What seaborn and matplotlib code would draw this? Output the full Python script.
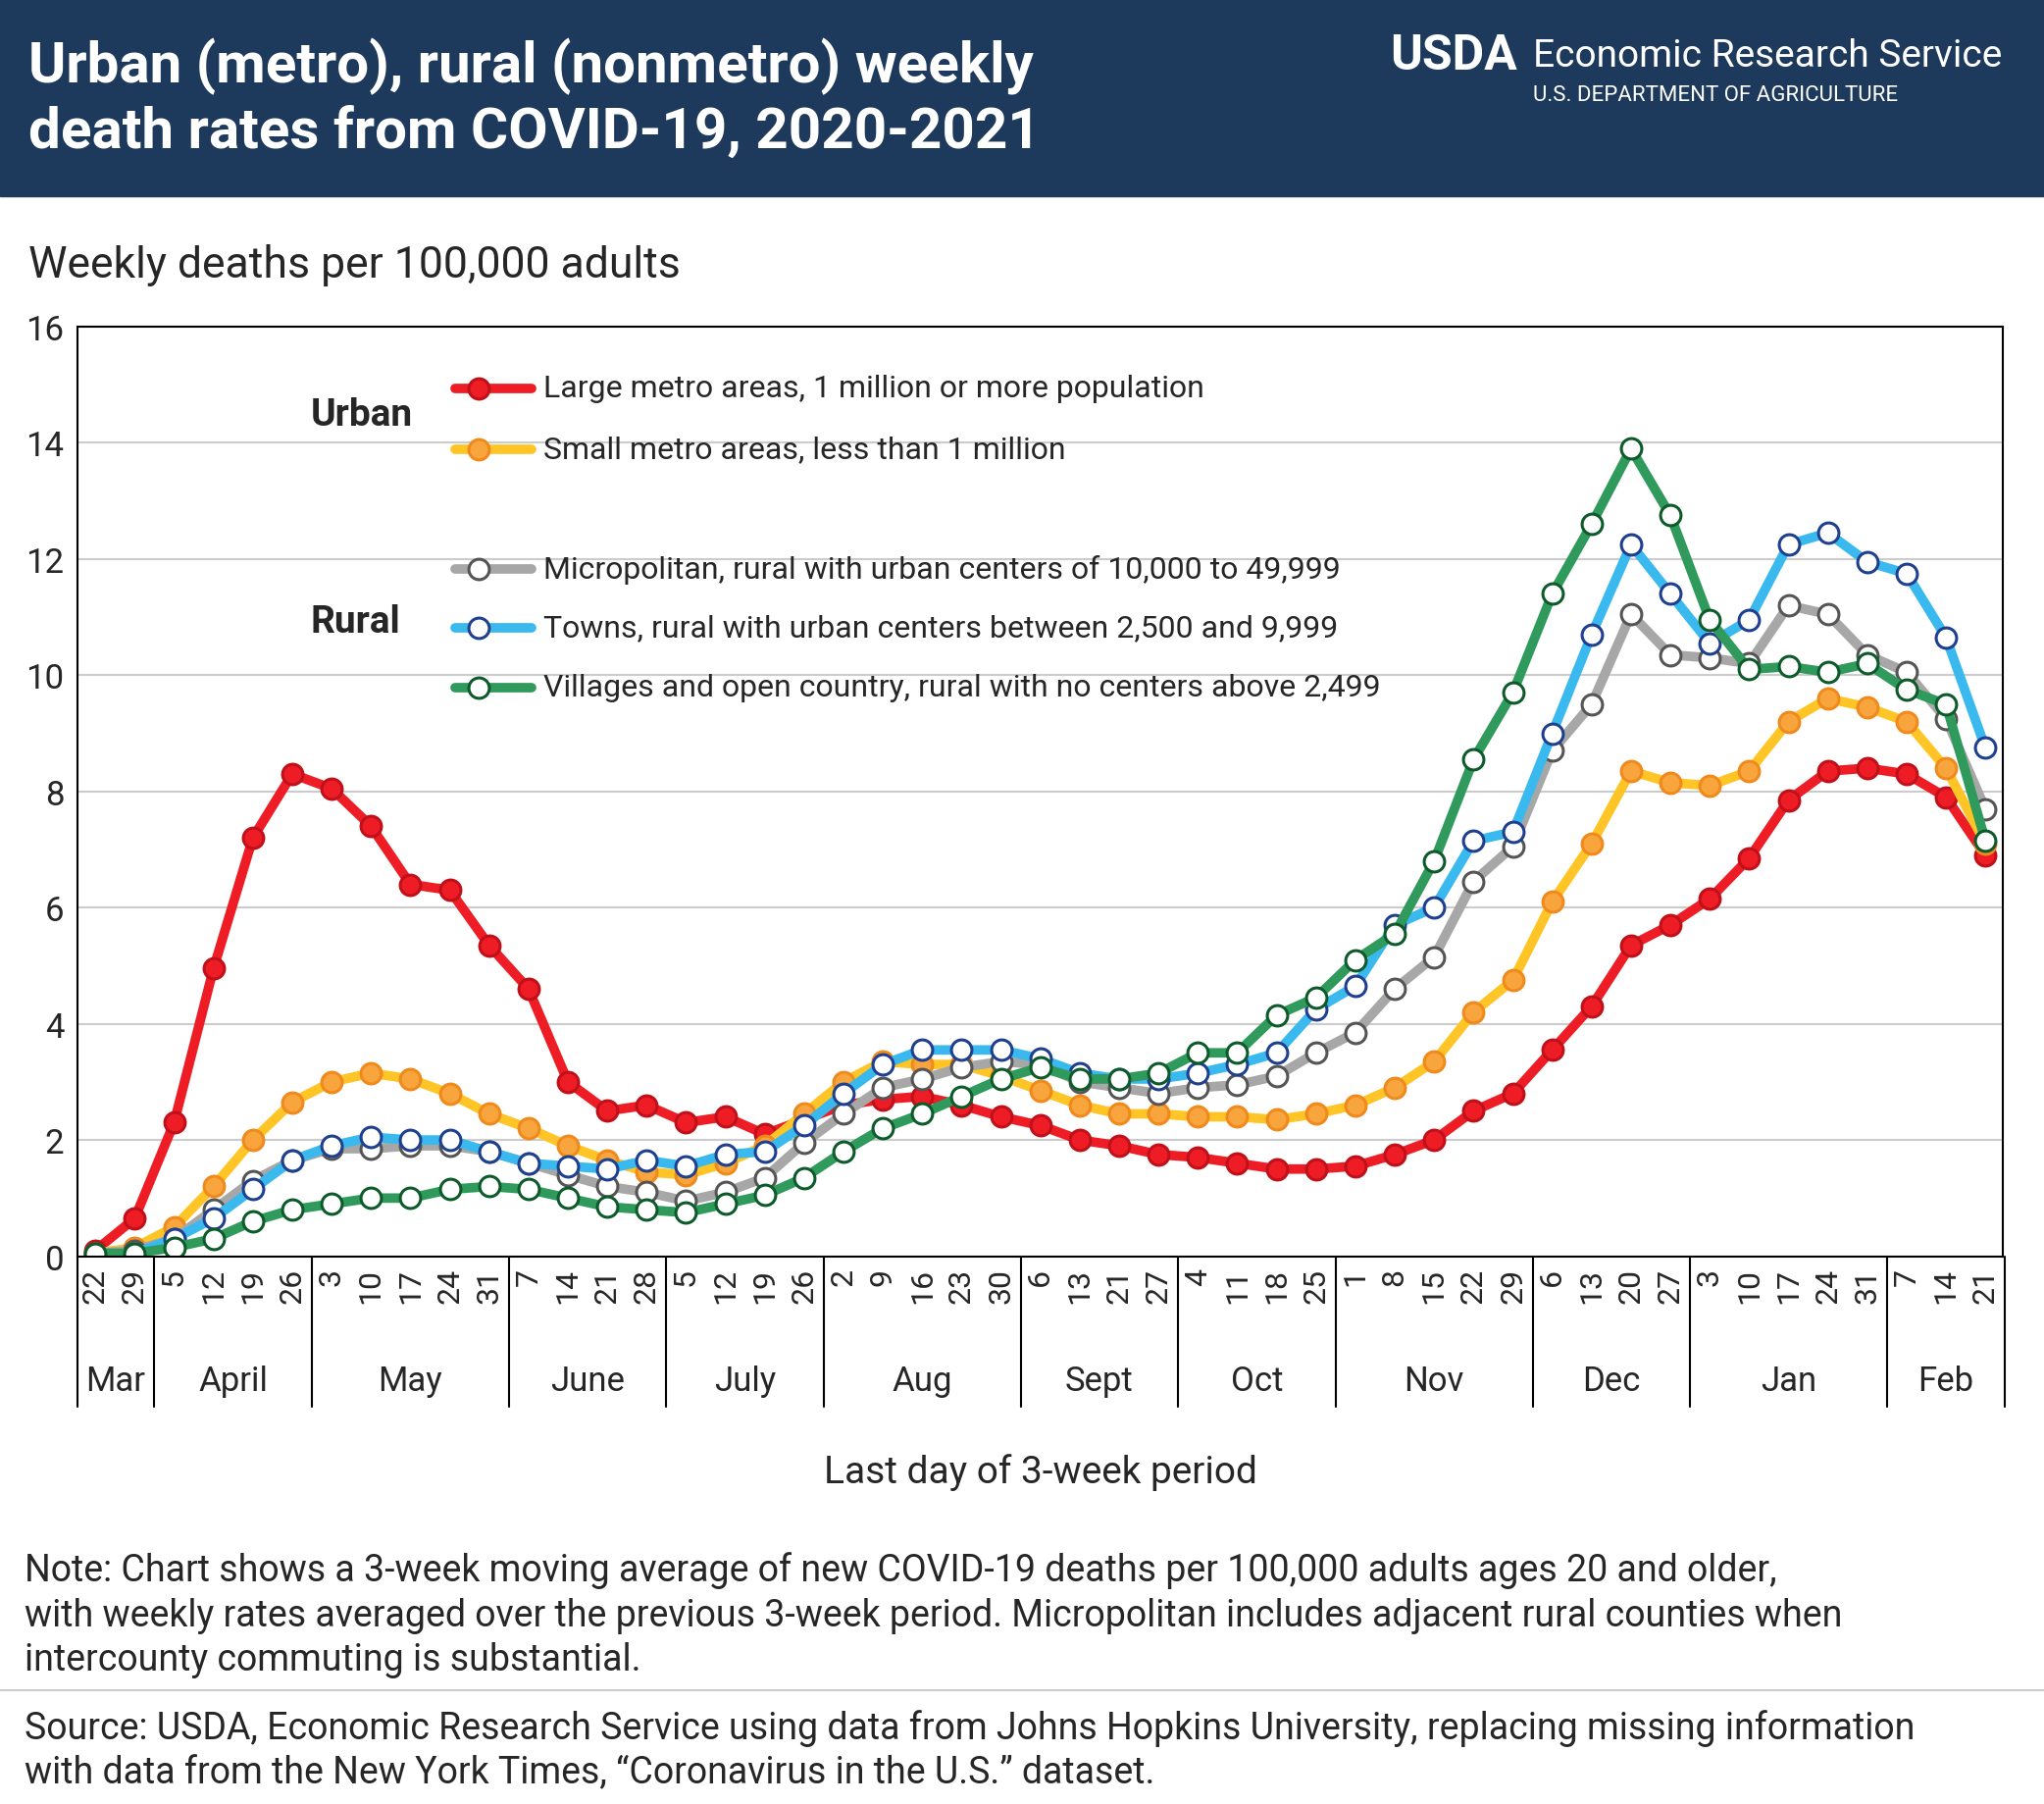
import numpy as np
import pandas as pd
import matplotlib
matplotlib.use("Agg")
import matplotlib.pyplot as plt
import seaborn as sns

# DATA
MONTHS = ["Mar", "April", "May", "June", "July", "Aug", "Sept", "Oct", "Nov", "Dec", "Jan", "Feb"]
DAYS = [
    [22, 29], [5, 12, 19, 26], [3, 10, 17, 24, 31], [7, 14, 21, 28], [5, 12, 19, 26],
    [2, 9, 16, 23, 30], [6, 13, 21, 27], [4, 11, 18, 25], [1, 8, 15, 22, 29],
    [6, 13, 20, 27], [3, 10, 17, 24, 31], [7, 14, 21],
]
large_metro = [0.1, 0.65, 2.3, 4.95, 7.2, 8.3, 8.05, 7.4, 6.4, 6.3, 5.35, 4.6, 3.0, 2.5, 2.6,
               2.3, 2.4, 2.1, 2.35, 2.6, 2.7, 2.75, 2.6, 2.4, 2.25, 2.0, 1.9, 1.75, 1.7, 1.6,
               1.5, 1.5, 1.55, 1.75, 2.0, 2.5, 2.8, 3.55, 4.3, 5.35, 5.7, 6.15, 6.85, 7.85,
               8.35, 8.4, 8.3, 7.9, 6.9]
small_metro = [0.05, 0.15, 0.5, 1.2, 2.0, 2.65, 3.0, 3.15, 3.05, 2.8, 2.45, 2.2, 1.9, 1.65, 1.45,
               1.4, 1.6, 1.9, 2.45, 3.0, 3.35, 3.3, 3.3, 3.1, 2.85, 2.6, 2.45, 2.45, 2.4, 2.4,
               2.35, 2.45, 2.6, 2.9, 3.35, 4.2, 4.75, 6.1, 7.1, 8.35, 8.15, 8.1, 8.35, 9.2,
               9.6, 9.45, 9.2, 8.4, 7.1]
micropolitan = [0.05, 0.1, 0.3, 0.8, 1.3, 1.65, 1.85, 1.85, 1.9, 1.9, 1.8, 1.6, 1.4, 1.2, 1.1,
                0.95, 1.1, 1.35, 1.95, 2.45, 2.9, 3.05, 3.25, 3.35, 3.3, 3.0, 2.9, 2.8, 2.9, 2.95,
                3.1, 3.5, 3.85, 4.6, 5.15, 6.45, 7.05, 8.7, 9.5, 11.05, 10.35, 10.3, 10.2, 11.2,
                11.05, 10.35, 10.05, 9.25, 7.7]
towns = [0.0, 0.05, 0.3, 0.65, 1.15, 1.65, 1.9, 2.05, 2.0, 2.0, 1.8, 1.6, 1.55, 1.5, 1.65,
         1.55, 1.75, 1.8, 2.25, 2.8, 3.3, 3.55, 3.55, 3.55, 3.4, 3.15, 3.05, 3.05, 3.15, 3.3,
         3.5, 4.25, 4.65, 5.7, 6.0, 7.15, 7.3, 9.0, 10.7, 12.25, 11.4, 10.55, 10.95, 12.25,
         12.45, 11.95, 11.75, 10.65, 8.75]
villages = [0.05, 0.05, 0.15, 0.3, 0.6, 0.8, 0.9, 1.0, 1.0, 1.15, 1.2, 1.15, 1.0, 0.85, 0.8,
            0.75, 0.9, 1.05, 1.35, 1.8, 2.2, 2.45, 2.75, 3.05, 3.25, 3.05, 3.05, 3.15, 3.5, 3.5,
            4.15, 4.45, 5.1, 5.55, 6.8, 8.55, 9.7, 11.4, 12.6, 13.9, 12.75, 10.95, 10.1, 10.15,
            10.05, 10.2, 9.75, 9.5, 7.15]

series = [
    ("Large metro areas, 1 million or more population", large_metro, "#ee1c25", "#ee1c25", "#c0101a"),
    ("Small metro areas, less than 1 million", small_metro, "#ffc425", "#f7a53c", "#f08a1c"),
    ("Micropolitan, rural with urban centers of 10,000 to 49,999", micropolitan, "#a7a7a7", "white", "#555555"),
    ("Towns, rural with urban centers between 2,500 and 9,999", towns, "#3ab9ee", "white", "#1f3f8f"),
    ("Villages and open country, rural with no centers above 2,499", villages, "#2f9a5b", "white", "#0d5a2a"),
]

sns.set_style("white")
plt.rcParams["font.family"] = ["Roboto", "DejaVu Sans"]

fig = plt.figure(figsize=(20.84, 18.4), dpi=100)
ax = fig.add_axes([0.038, 0.3035, 0.942, 0.515])

x = np.arange(len(large_metro))
for label, vals, lc, fc, ec in series:
    df = pd.DataFrame({"x": x, "y": vals})
    sns.lineplot(data=df, x="x", y="y", ax=ax, color=lc, linewidth=7, marker="o",
                 markersize=15, markerfacecolor=fc, markeredgecolor=ec, markeredgewidth=2.2)

ax.set_xlim(-0.45, len(x) - 0.55)
ax.set_ylim(0, 16)
ax.set_yticks(range(0, 17, 2))
ax.tick_params(axis="y", labelsize=25, length=0, pad=10)
ax.yaxis.grid(True, color="#cccccc", linewidth=1.5)
for s in ax.spines.values():
    s.set_color("black")
    s.set_linewidth(1.5)
ax.set_xlabel("")
ax.set_ylabel("")

day_labels = [str(d) for g in DAYS for d in g]
ax.set_xticks(x)
ax.set_xticklabels(day_labels, rotation=90, fontsize=23)
ax.tick_params(axis="x", length=0, pad=8)

# month band
trans = ax.get_xaxis_transform()
start = 0
edges = [-0.5]
for m, g in zip(MONTHS, DAYS):
    end = start + len(g)
    edges.append(end - 0.5)
    ax.text((start + end - 1) / 2, -0.134, m, transform=trans, ha="center", va="center", fontsize=25)
    start = end
for e in edges:
    ax.plot([max(e, -0.45), max(e, -0.45)], [0, -0.162], transform=trans, color="black", lw=1.5, clip_on=False)
ax.text(0.5, -0.232, "Last day of 3-week period", transform=ax.transAxes, ha="center", va="center", fontsize=28)

# legend
lx0, lx1, tx = 0.196, 0.236, 0.242
ys = [0.934, 0.868, 0.739, 0.676, 0.612]
for (label, vals, lc, fc, ec), yy in zip(series, ys):
    ax.plot([lx0, lx1], [yy, yy], transform=ax.transAxes, color=lc, lw=7)
    ax.plot([lx0 + 0.012], [yy], transform=ax.transAxes, marker="o", ms=15,
            mfc=fc, mec=ec, mew=2.2, color=lc)
    ax.text(tx, yy, label, transform=ax.transAxes, va="center", fontsize=23)
ax.text(0.121, 0.905, "Urban", transform=ax.transAxes, fontsize=28, weight="bold", va="center")
ax.text(0.121, 0.683, "Rural", transform=ax.transAxes, fontsize=28, weight="bold", va="center")

# header
fig.patches.append(plt.Rectangle((0, 0.891), 1, 0.109, transform=fig.transFigure, color="#1d3a5c", zorder=0))
fig.text(0.014, 0.945, "Urban (metro), rural (nonmetro) weekly\ndeath rates from COVID-19, 2020-2021",
         color="white", fontsize=42, weight="bold", va="center", linespacing=1.25)
fig.text(0.68, 0.969, "USDA", color="white", fontsize=36, weight="bold", va="center")
fig.text(0.75, 0.969, "Economic Research Service", color="white", fontsize=28, va="center")
fig.text(0.75, 0.947, "U.S. DEPARTMENT OF AGRICULTURE", color="white", fontsize=16, va="center")

fig.text(0.014, 0.853, "Weekly deaths per 100,000 adults", fontsize=32, va="center")
fig.text(0.012, 0.105,
         "Note: Chart shows a 3-week moving average of new COVID-19 deaths per 100,000 adults ages 20 and older,\n"
         "with weekly rates averaged over the previous 3-week period. Micropolitan includes adjacent rural counties when\n"
         "intercounty commuting is substantial.", fontsize=27, va="center", linespacing=1.3)
fig.text(0.012, 0.03,
         "Source: USDA, Economic Research Service using data from Johns Hopkins University, replacing missing information\n"
         "with data from the New York Times, \u201cCoronavirus in the U.S.\u201d dataset.", fontsize=27, va="center", linespacing=1.3)
fig.add_artist(plt.Line2D([0, 1], [0.063, 0.063], color="#cccccc", lw=1.5))

fig.savefig("out.png", dpi=100)
